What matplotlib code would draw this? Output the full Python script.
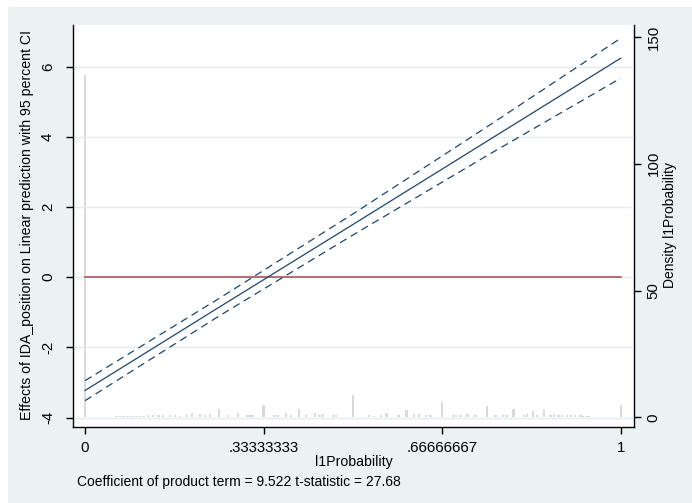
import matplotlib
matplotlib.use("Agg")
import matplotlib.pyplot as plt
from matplotlib.ticker import FixedLocator, FixedFormatter
from matplotlib.patches import Rectangle

plt.rcParams['font.family'] = ['Liberation Sans', 'DejaVu Sans']

# ---- data ----
x_pred = [0.0, 0.25, 0.5, 0.75, 1.0]
y_center = [-3.23, -0.86, 1.50, 3.87, 6.24]
y_upper = [-2.95, -0.61, 1.80, 4.28, 6.81]
y_lower = [-3.52, -1.11, 1.20, 3.46, 5.67]

ref_x = [0.0, 1.0]
ref_y = [0.0, 0.0]

hist_x = [0.0, 0.059, 0.065, 0.0715, 0.078, 0.084, 0.09, 0.096, 0.103, 0.109,
          0.118, 0.127, 0.137, 0.146, 0.159, 0.168, 0.177, 0.19, 0.2, 0.215,
          0.224, 0.233, 0.25, 0.267, 0.286, 0.303, 0.309, 0.314, 0.3333,
          0.354, 0.36, 0.375, 0.385, 0.4, 0.413, 0.429, 0.438, 0.444, 0.463,
          0.469, 0.5, 0.53, 0.54, 0.552, 0.563, 0.585, 0.6, 0.614, 0.624,
          0.636, 0.645, 0.6667, 0.687, 0.692, 0.701, 0.714, 0.729, 0.75,
          0.766, 0.78, 0.787, 0.8, 0.819, 0.825, 0.836, 0.844, 0.857, 0.869,
          0.875, 0.884, 0.89, 0.9, 0.907, 0.915, 0.925, 0.93, 0.935, 0.94, 1.0]
hist_d = [135.0, 0.4, 0.4, 0.4, 0.4, 0.4, 0.4, 0.4, 0.4, 0.4,
          0.8, 0.8, 0.8, 1.0, 0.8, 1.0, 0.6, 1.0, 1.7, 1.2,
          0.8, 1.2, 3.5, 0.8, 1.6, 0.8, 0.8, 0.8, 5.0,
          0.8, 0.8, 1.7, 0.8, 3.4, 0.8, 1.6, 0.8, 1.4, 1.0,
          0.8, 9.0, 0.8, 0.6, 0.8, 1.6, 0.8, 2.9, 1.2, 1.4,
          0.8, 0.8, 6.1, 0.8, 0.8, 0.8, 1.4, 0.8, 4.7,
          0.8, 1.0, 0.8, 3.3, 0.8, 1.2, 2.6, 0.8, 2.8, 1.0,
          1.2, 0.8, 0.8, 0.8, 0.8, 0.8, 0.8, 0.6, 0.6, 0.6, 5.0]

x_ticks = [0, 1/3, 2/3, 1]
x_ticklabels = ["0", ".33333333", ".66666667", "1"]
yl_ticks = [-4, -2, 0, 2, 4, 6]
yl_ticklabels = ["-4", "-2", "0", "2", "4", "6"]
yr_ticks = [0, 50, 100, 150]
yr_ticklabels = ["0", "50", "100", "150"]

ylabel_left = "Effects of IDA_position on Linear prediction with 95 percent CI"
ylabel_right = "Density l1Probability"
xlabel = "l1Probability"
note = "Coefficient of product term = 9.522 t-statistic = 27.68"

# ---- figure ----
W, H = 692, 503
BG = '#eaf2f3'
NAVY = '#1a476f'
fig = plt.figure(figsize=(W / 100, H / 100), dpi=100, facecolor='white')
# graph region (white outer margin on top and left)
fig.patches.append(Rectangle((8 / W, 0), 1 - 8 / W, 1 - 7 / H,
                             transform=fig.transFigure, facecolor=BG,
                             edgecolor='none', zorder=-10))
L, R, T, B = 73, 634, 25, 427
ax2 = fig.add_axes([L / W, 1 - B / H, (R - L) / W, (B - T) / H])
ax = fig.add_axes([L / W, 1 - B / H, (R - L) / W, (B - T) / H], sharex=ax2)
ax2.set_facecolor('white')
ax.patch.set_visible(False)

# histogram on density axis
ax2.bar(hist_x, hist_d, width=0.0045, color='#dadada', edgecolor='none', zorder=2)
ax2.set_ylim(-3.75, 154.7)

# left axis
ax.set_xlim(-0.0224, 1.0248)
ax.set_ylim(-4.27, 7.186)
for yv in yl_ticks:
    ax.plot([-0.0224, 1.0248], [yv, yv], color='#e3ecee', lw=1.0, zorder=0.5)
ax.plot(ref_x, ref_y, color='#a8474b', lw=1.1, zorder=3)
ax.plot(x_pred, y_upper, color=NAVY, lw=0.9, ls=(0, (6, 4)), zorder=4)
ax.plot(x_pred, y_center, color=NAVY, lw=0.9, zorder=4)
ax.plot(x_pred, y_lower, color=NAVY, lw=0.9, ls=(0, (6, 4)), zorder=4)

for a in (ax, ax2):
    for s in a.spines.values():
        s.set_visible(False)
ax.spines['left'].set_visible(True)
ax.spines['bottom'].set_visible(True)
ax2.spines['right'].set_visible(True)
for sp in (ax.spines['left'], ax.spines['bottom'], ax2.spines['right']):
    sp.set_color('#000000')
    sp.set_linewidth(1.0)

ax.xaxis.set_major_locator(FixedLocator(x_ticks))
ax.xaxis.set_major_formatter(FixedFormatter(x_ticklabels))
ax.yaxis.set_major_locator(FixedLocator(yl_ticks))
ax.yaxis.set_major_formatter(FixedFormatter(yl_ticklabels))
ax2.yaxis.tick_right()
ax2.yaxis.set_major_locator(FixedLocator(yr_ticks))
ax2.yaxis.set_major_formatter(FixedFormatter(yr_ticklabels))
ax2.tick_params(axis='x', bottom=False, labelbottom=False)

ax.tick_params(axis='x', direction='out', length=5, width=1, pad=5,
               labelsize=10.8, colors='#000000')
ax.tick_params(axis='y', direction='out', length=5, width=1, pad=8,
               labelsize=10.8, colors='#000000', labelrotation=90)
ax2.tick_params(axis='y', direction='out', length=5, width=1, pad=4,
                labelsize=10.8, colors='#000000', labelrotation=90,
                right=True, labelright=True, left=False, labelleft=False)
for lab in ax.get_yticklabels():
    lab.set_verticalalignment('center')
for lab in ax2.get_yticklabels():
    lab.set_verticalalignment('center')

fig.text(27.5 / W, 1 - 225 / H, ylabel_left, rotation=90, ha='center', va='center',
         fontsize=10.2)
fig.text(670 / W, 1 - 225 / H, ylabel_right, rotation=90, ha='center', va='center',
         fontsize=10.0)
fig.text(353.5 / W, 1 - 462 / H, xlabel, ha='center', va='center', fontsize=10.2)
fig.text(77 / W, 1 - 482 / H, note, ha='left', va='center', fontsize=10.0)

fig.savefig('out.png', dpi=100, facecolor='white')
